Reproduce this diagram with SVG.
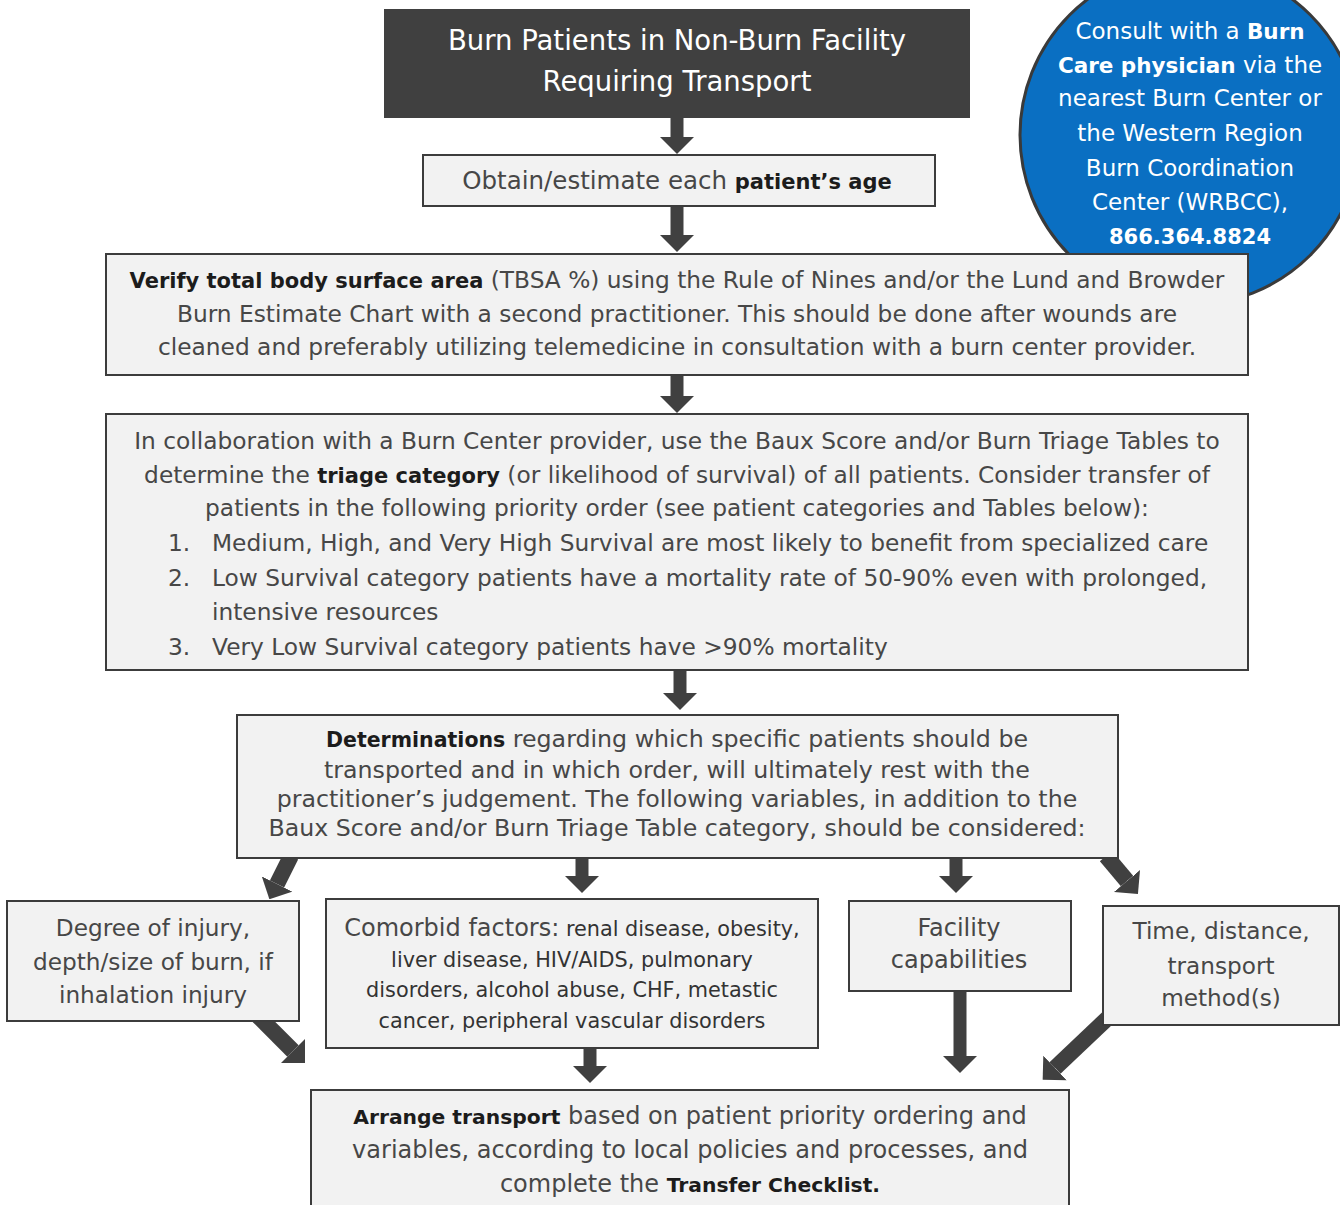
<svg xmlns="http://www.w3.org/2000/svg" width="1340" height="1205" viewBox="0 0 1340 1205">
  <defs>
    <style>
      .box { fill: #f2f2f2; stroke: #3c3c3c; stroke-width: 2; }
      .t { font-family: "DejaVu Sans", "Liberation Sans", sans-serif; fill: #474747; text-anchor: middle; }
      .s { text-anchor: start; }
      .b { font-weight: bold; fill: #1c1c1c; }
      .w { fill: #ffffff; }
      .wb { fill: #ffffff; font-weight: bold; }
      .arrow { stroke: #404040; fill: none; }
      .v { stroke-width: 13; marker-end: url(#head); }
      .d { stroke-width: 16; marker-end: url(#head); }
    </style>
    <marker id="head" markerUnits="userSpaceOnUse" viewBox="0 0 17 34" refX="0" refY="17" markerWidth="17" markerHeight="34" orient="auto">
      <path d="M0,0 L17,17 L0,34 Z" fill="#404040"/>
    </marker>
  </defs>

  <rect width="1340" height="1205" fill="#ffffff"/>

  <!-- consult bubble sits behind the TBSA box -->
  <g id="consult">
    <circle cx="1190" cy="135" r="170" fill="#0a6fc2" stroke="#3a3a3a" stroke-width="3"/>
    <g class="t" font-size="23">
      <text x="1190" y="39"><tspan class="w">Consult with a </tspan><tspan class="wb" font-size="21.5">Burn</tspan></text>
      <text x="1190" y="73"><tspan class="wb" font-size="21.5">Care physician</tspan><tspan class="w"> via the</tspan></text>
      <text x="1190" y="106" class="w">nearest Burn Center or</text>
      <text x="1190" y="141" class="w">the Western Region</text>
      <text x="1190" y="176" class="w">Burn Coordination</text>
      <text x="1190" y="210" class="w">Center (WRBCC),</text>
      <text x="1190" y="244" class="wb" font-size="21">866.364.8824</text>
    </g>
  </g>

  <!-- connectors -->
  <g id="connectors" class="arrow">
    <line class="v" x1="677" y1="118" x2="677" y2="137"/>
    <line class="v" x1="677" y1="206" x2="677" y2="235"/>
    <line class="v" x1="677" y1="375" x2="677" y2="396"/>
    <line class="v" x1="680" y1="670" x2="680" y2="693"/>
    <line class="d" x1="291" y1="856" x2="277" y2="884"/>
    <line class="v" x1="582" y1="858" x2="582" y2="876"/>
    <line class="v" x1="956" y1="858" x2="956" y2="876"/>
    <line class="d" x1="1106" y1="856" x2="1127" y2="881"/>
    <line class="d" x1="258" y1="1016" x2="293" y2="1051"/>
    <line class="v" x1="590" y1="1048" x2="590" y2="1066"/>
    <line class="v" x1="960" y1="991" x2="960" y2="1056"/>
    <line class="d" x1="1112" y1="1014" x2="1055" y2="1068"/>
  </g>

  <g id="start">
    <rect x="384" y="9" width="586" height="109" fill="#404040"/>
    <text class="t w" x="677" y="50" font-size="27.5">Burn Patients in Non-Burn Facility</text>
    <text class="t w" x="677" y="91" font-size="27.5">Requiring Transport</text>
  </g>

  <g id="age">
    <rect class="box" x="423" y="155" width="512" height="51"/>
    <text class="t" x="677" y="189" font-size="24.5">Obtain/estimate each <tspan class="b" font-size="21">patient’s age</tspan></text>
  </g>

  <g id="tbsa">
    <rect class="box" x="106" y="254" width="1142" height="121"/>
    <g class="t" font-size="23.3">
      <text x="677" y="288"><tspan class="b" font-size="21">Verify total body surface area</tspan> (TBSA %) using the Rule of Nines and/or the Lund and Browder</text>
      <text x="677" y="322">Burn Estimate Chart with a second practitioner. This should be done after wounds are</text>
      <text x="677" y="355">cleaned and preferably utilizing telemedicine in consultation with a burn center provider.</text>
    </g>
  </g>

  <g id="triage">
    <rect class="box" x="106" y="414" width="1142" height="256"/>
    <g class="t" font-size="23.3">
      <text x="677" y="449">In collaboration with a Burn Center provider, use the Baux Score and/or Burn Triage Tables to</text>
      <text x="677" y="483">determine the <tspan class="b" font-size="21">triage category</tspan> (or likelihood of survival) of all patients. Consider transfer of</text>
      <text x="677" y="516">patients in the following priority order (see patient categories and Tables below):</text>
      <text class="s" x="168" y="551">1.</text>
      <text class="s" x="212" y="551">Medium, High, and Very High Survival are most likely to benefit from specialized care</text>
      <text class="s" x="168" y="586">2.</text>
      <text class="s" x="212" y="586">Low Survival category patients have a mortality rate of 50-90% even with prolonged,</text>
      <text class="s" x="212" y="620">intensive resources</text>
      <text class="s" x="168" y="655">3.</text>
      <text class="s" x="212" y="655">Very Low Survival category patients have &gt;90% mortality</text>
    </g>
  </g>

  <g id="determinations">
    <rect class="box" x="237" y="715" width="881" height="143"/>
    <g class="t" font-size="23.7">
      <text x="677" y="747"><tspan class="b" font-size="20.5">Determinations</tspan> regarding which specific patients should be</text>
      <text x="677" y="778">transported and in which order, will ultimately rest with the</text>
      <text x="677" y="807">practitioner’s judgement. The following variables, in addition to the</text>
      <text x="677" y="836">Baux Score and/or Burn Triage Table category, should be considered:</text>
    </g>
  </g>

  <g id="degree">
    <rect class="box" x="7" y="901" width="292" height="120"/>
    <g class="t" font-size="23.2">
      <text x="153" y="936">Degree of injury,</text>
      <text x="153" y="970">depth/size of burn, if</text>
      <text x="153" y="1003">inhalation injury</text>
    </g>
  </g>

  <g id="comorbid">
    <rect class="box" x="326" y="899" width="492" height="149"/>
    <g class="t" font-size="20.8" style="fill:#333333">
      <text x="572" y="936"><tspan font-size="24" style="fill:#474747">Comorbid factors:</tspan> renal disease, obesity,</text>
      <text x="572" y="967">liver disease, HIV/AIDS, pulmonary</text>
      <text x="572" y="997">disorders, alcohol abuse, CHF, metastic</text>
      <text x="572" y="1028">cancer, peripheral vascular disorders</text>
    </g>
  </g>

  <g id="facility">
    <rect class="box" x="849" y="901" width="222" height="90"/>
    <g class="t" font-size="24">
      <text x="959" y="936">Facility</text>
      <text x="959" y="968">capabilities</text>
    </g>
  </g>

  <g id="time">
    <rect class="box" x="1103" y="906" width="236" height="119"/>
    <g class="t" font-size="23.2">
      <text x="1221" y="939">Time, distance,</text>
      <text x="1221" y="974">transport</text>
      <text x="1221" y="1006">method(s)</text>
    </g>
  </g>

  <g id="arrange">
    <rect class="box" x="311" y="1090" width="758" height="130"/>
    <g class="t" font-size="24">
      <text x="690" y="1124"><tspan class="b" font-size="20.3">Arrange transport</tspan> based on patient priority ordering and</text>
      <text x="690" y="1158">variables, according to local policies and processes, and</text>
      <text x="690" y="1192">complete the <tspan class="b" font-size="20.3">Transfer Checklist.</tspan></text>
    </g>
  </g>
</svg>
